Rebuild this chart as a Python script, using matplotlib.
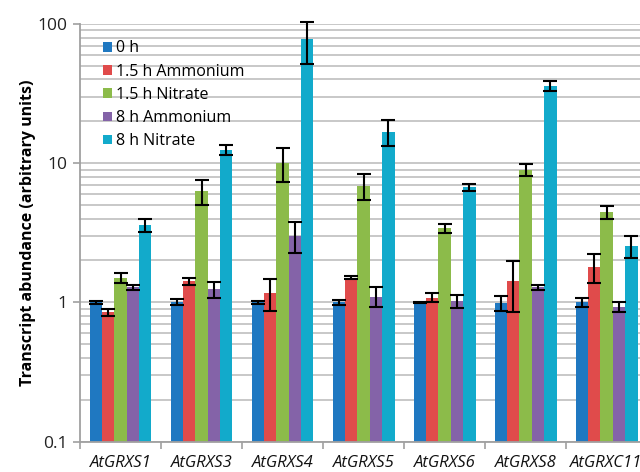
import numpy as np
import matplotlib.pyplot as plt

## 数据
genes = ['AtGRXS1', 'AtGRXS3', 'AtGRXS4', 'AtGRXS5', 'AtGRXS6', 'AtGRXS8', 'AtGRXC11']
series = ['0 h', '1.5 h Ammonium', '1.5 h Nitrate', '8 h Ammonium', '8 h Nitrate']

h0 = [1.0, 1.0, 1.0, 1.0, 1.0, 0.99, 1.0]
h0_err = [0.03, 0.05, 0.03, 0.04, 0.01, 0.12, 0.07]
amm15 = [0.85, 1.42, 1.17, 1.5, 1.08, 1.42, 1.8]
amm15_err = [0.05, 0.08, 0.3, 0.04, 0.08, 0.57, 0.43]
nit15 = [1.5, 6.3, 10.1, 6.9, 3.4, 9.0, 4.45]
nit15_err = [0.12, 1.3, 2.8, 1.5, 0.25, 0.9, 0.5]
amm8 = [1.28, 1.24, 3.0, 1.1, 1.02, 1.28, 0.93]
amm8_err = [0.06, 0.16, 0.75, 0.18, 0.11, 0.06, 0.08]
nit8 = [3.6, 12.5, 78.0, 16.8, 6.7, 35.8, 2.55]
nit8_err = [0.4, 1.0, 26.0, 3.6, 0.4, 3.0, 0.45]

values = [h0, amm15, nit15, amm8, nit8]
errors = [h0_err, amm15_err, nit15_err, amm8_err, nit8_err]
colors = ['#1f78c1', '#e04b4b', '#8cbb4a', '#8463a8', '#12aacb']

plt.rcParams['font.family'] = ['Open Sans', 'DejaVu Sans']

fig = plt.figure(figsize=(6.4, 4.72), dpi=100)
ax = fig.add_axes([0.125, 0.0646, 0.886, 0.8845])

x = np.arange(len(genes))
w = 0.153
base = 0.1
for i in range(len(series)):
    pos = x + (i - 2) * w
    v = np.array(values[i])
    # 对数坐标下柱子从 0.1 开始画
    ax.bar(pos, v - base, width=w, bottom=base, color=colors[i], label=series[i], zorder=2)
    eb = ax.errorbar(pos, v, yerr=errors[i], fmt='none', ecolor='black',
                     elinewidth=1.5, capsize=5, capthick=1.5, zorder=3)
    # 误差线可以超出坐标轴顶部
    for art in eb.lines[1] + eb.lines[2]:
        art.set_clip_on(False)

ax.set_yscale('log')
ax.set_ylim(0.1, 100)
ax.set_xlim(-0.5, len(genes) - 0.5)
ax.set_yticks([0.1, 1, 10, 100])
ax.set_yticklabels(['0.1', '1', '10', '100'], fontsize=12.5, color='#222222')
ax.yaxis.grid(True, which='both', color='#c4c4c4', linewidth=1.3, zorder=0)
ax.tick_params(axis='y', which='minor', length=0)
ax.tick_params(axis='y', which='major', length=5, color='#a0a0a0', width=1.2, pad=4)

ax.set_xticks(x)
ax.set_xticklabels(genes, fontsize=12, style='italic', color='#111111')
ax.tick_params(axis='x', length=0, pad=10)
ax.set_xticks(np.arange(len(genes) + 1) - 0.5, minor=True)
ax.tick_params(axis='x', which='minor', length=5, color='#a0a0a0', width=1.2)

for s in ['top', 'right']:
    ax.spines[s].set_visible(False)
for s in ['left', 'bottom']:
    ax.spines[s].set_color('#a0a0a0')
    ax.spines[s].set_linewidth(1.3)

ax.set_ylabel('Transcript abundance (arbitrary units)', fontsize=11.5, fontweight='bold', labelpad=1)

ax.legend(loc='upper left', bbox_to_anchor=(0.015, 0.995), frameon=False, fontsize=11.5,
          handlelength=0.55, handleheight=0.55, handletextpad=0.3, labelspacing=0.45)

plt.savefig('out.png', dpi=100)
